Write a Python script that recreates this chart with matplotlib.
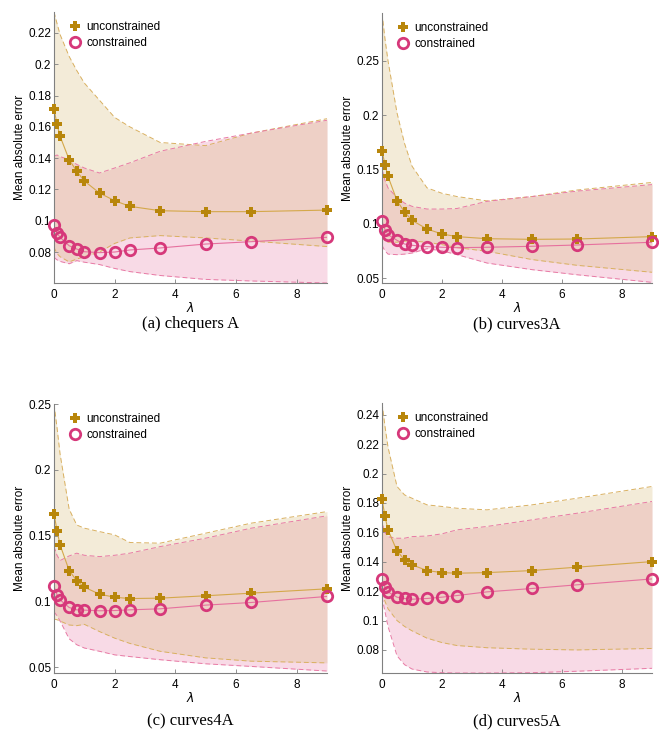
import matplotlib
matplotlib.use("Agg")
import matplotlib.pyplot as plt
from matplotlib.ticker import FormatStrFormatter

lam = [0, 0.1, 0.2, 0.5, 0.75, 1, 1.5, 2, 2.5, 3.5, 5, 6.5, 9]

# (a) chequers A
unc_a = [0.1714, 0.1616, 0.154, 0.139, 0.1316, 0.1254, 0.1177, 0.1128, 0.1092, 0.1064, 0.1058, 0.1058, 0.1068]
con_a = [0.097, 0.0921, 0.0894, 0.084, 0.0819, 0.0802, 0.0796, 0.08, 0.0813, 0.0826, 0.0851, 0.0866, 0.0894]
unc_hi_a = [0.2334, 0.226, 0.219, 0.205, 0.196, 0.188, 0.177, 0.166, 0.160, 0.150, 0.148, 0.156, 0.1652]
unc_lo_a = [0.083, 0.079, 0.077, 0.0737, 0.0755, 0.077, 0.080, 0.0855, 0.089, 0.0905, 0.089, 0.087, 0.0835]
con_hi_a = [0.1412, 0.142, 0.141, 0.139, 0.136, 0.1337, 0.1305, 0.1337, 0.137, 0.1444, 0.1507, 0.156, 0.1642]
con_lo_a = [0.0766, 0.075, 0.074, 0.0725, 0.0745, 0.0735, 0.072, 0.0695, 0.0675, 0.065, 0.0625, 0.0615, 0.0602]

# (b) curves3A
unc_b = [0.1672, 0.1543, 0.1436, 0.1212, 0.1108, 0.1031, 0.0951, 0.0905, 0.0881, 0.0862, 0.0856, 0.0859, 0.0881]
con_b = [0.1022, 0.0945, 0.0899, 0.0847, 0.0813, 0.0801, 0.0789, 0.0783, 0.0779, 0.0783, 0.0792, 0.0804, 0.0829]
unc_hi_b = [0.294, 0.27, 0.25, 0.202, 0.174, 0.153, 0.133, 0.128, 0.125, 0.121, 0.125, 0.131, 0.138]
unc_lo_b = [0.088, 0.084, 0.083, 0.083, 0.084, 0.084, 0.083, 0.0807, 0.078, 0.0746, 0.067, 0.0617, 0.0553]
con_hi_b = [0.150, 0.140, 0.133, 0.124, 0.119, 0.116, 0.1135, 0.1135, 0.114, 0.1206, 0.125, 0.130, 0.136]
con_lo_b = [0.080, 0.075, 0.072, 0.0715, 0.072, 0.073, 0.077, 0.075, 0.0715, 0.0638, 0.0577, 0.053, 0.046]

# (c) curves4A
unc_c = [0.1665, 0.1538, 0.1429, 0.1234, 0.1156, 0.1108, 0.1054, 0.1031, 0.1021, 0.1024, 0.1042, 0.1062, 0.1095]
con_c = [0.1113, 0.105, 0.1011, 0.0953, 0.0935, 0.0933, 0.0928, 0.093, 0.0935, 0.0943, 0.0971, 0.0991, 0.1037]
unc_hi_c = [0.25, 0.232, 0.212, 0.17, 0.158, 0.1556, 0.153, 0.1505, 0.1447, 0.1442, 0.1518, 0.1594, 0.1682]
unc_lo_c = [0.0865, 0.086, 0.085, 0.082, 0.0815, 0.0825, 0.077, 0.072, 0.068, 0.062, 0.057, 0.0545, 0.0532]
con_hi_c = [0.1416, 0.135, 0.131, 0.1345, 0.1366, 0.135, 0.134, 0.135, 0.1366, 0.1416, 0.148, 0.1556, 0.165]
con_lo_c = [0.092, 0.089, 0.085, 0.0715, 0.067, 0.0645, 0.062, 0.0593, 0.058, 0.0556, 0.0525, 0.0505, 0.047]

# (d) curves5A
unc_d = [0.1828, 0.1708, 0.1617, 0.1474, 0.1413, 0.1379, 0.134, 0.1326, 0.1322, 0.1326, 0.134, 0.1363, 0.1401]
con_d = [0.1281, 0.1226, 0.1195, 0.1159, 0.115, 0.1145, 0.115, 0.1159, 0.117, 0.1195, 0.1218, 0.1243, 0.1283]
unc_hi_d = [0.248, 0.232, 0.218, 0.1912, 0.1855, 0.1832, 0.1787, 0.1776, 0.1764, 0.1753, 0.1787, 0.1832, 0.1912]
unc_lo_d = [0.119, 0.113, 0.108, 0.100, 0.096, 0.093, 0.088, 0.085, 0.083, 0.0815, 0.0805, 0.080, 0.081]
con_hi_d = [0.1662, 0.160, 0.157, 0.156, 0.156, 0.1571, 0.1575, 0.159, 0.1617, 0.164, 0.1685, 0.173, 0.181]
con_lo_d = [0.116, 0.106, 0.096, 0.076, 0.070, 0.067, 0.065, 0.0645, 0.0643, 0.0643, 0.0645, 0.0655, 0.0675]

captions = ["(a) chequers A", "(b) curves3A", "(c) curves4A", "(d) curves5A"]
ylims = [(0.0602, 0.2334), (0.0454, 0.294), (0.0455, 0.25), (0.0643, 0.248)]
yticks = [[0.08, 0.1, 0.12, 0.14, 0.16, 0.18, 0.2, 0.22],
          [0.05, 0.1, 0.15, 0.2, 0.25],
          [0.05, 0.1, 0.15, 0.2, 0.25],
          [0.08, 0.1, 0.12, 0.14, 0.16, 0.18, 0.2, 0.22, 0.24]]
xticks = [0, 2, 4, 6, 8]

panels = [
    (unc_a, con_a, unc_hi_a, unc_lo_a, con_hi_a, con_lo_a),
    (unc_b, con_b, unc_hi_b, unc_lo_b, con_hi_b, con_lo_b),
    (unc_c, con_c, unc_hi_c, unc_lo_c, con_hi_c, con_lo_c),
    (unc_d, con_d, unc_hi_d, unc_lo_d, con_hi_d, con_lo_d),
]

gold = "#b8860b"
pink = "#d6387a"

plt.rcParams["font.family"] = "Liberation Sans"

W, H = 659, 735
fig = plt.figure(figsize=(W / 100, H / 100), dpi=100)

# axes boxes in pixels: left, right, top, bottom; caption y
boxes = [(54, 327, 12, 283), (382, 652, 13, 283), (54, 327, 404, 673), (382, 652, 403, 673)]
cap_y = [324, 324, 721, 721]

for i, (unc, con, uhi, ulo, chi, clo) in enumerate(panels):
    l, r, t, b = boxes[i]
    ax = fig.add_axes([l / W, 1 - b / H, (r - l) / W, (b - t) / H])
    ax.fill_between(lam, clo, chi, color="#f8dae6", lw=0)
    ax.fill_between(lam, ulo, uhi, color="#d3b367", alpha=0.25, lw=0)
    for arr in (uhi, ulo):
        ax.plot(lam, arr, color="#d9b060", lw=0.7, ls=(0, (5, 3)))
    for arr in (chi, clo):
        ax.plot(lam, arr, color="#e87aa5", lw=0.7, ls=(0, (5, 3)))
    ax.plot(lam, unc, color="#d4a84a", lw=0.8)
    ax.plot(lam, con, color="#e6709e", lw=0.8)
    ax.plot(lam, unc, ls="none", marker="P", ms=7.5, color=gold, mew=0,
            label="unconstrained", clip_on=False, zorder=5)
    ax.plot(lam, con, ls="none", marker="o", ms=7.5, mfc="none", mec=pink, mew=2,
            label="constrained", clip_on=False, zorder=5)

    ax.set_xlim(0, 9)
    ax.set_ylim(*ylims[i])
    ax.set_xticks(xticks)
    ax.set_yticks(yticks[i])
    ax.yaxis.set_major_formatter(FormatStrFormatter("%g"))
    for s in ("top", "right"):
        ax.spines[s].set_visible(False)
    for s in ("left", "bottom"):
        ax.spines[s].set_color("#808080")
        ax.spines[s].set_linewidth(0.8)
    ax.tick_params(direction="in", length=3, width=0.6, color="#808080",
                   labelsize=8.5)
    ax.tick_params(axis="y", pad=2)
    ax.tick_params(axis="x", pad=4)
    ax.set_ylabel("Mean absolute error", fontsize=8.5, labelpad=1.5)
    ax.set_xlabel(r"$\lambda$", fontsize=9, labelpad=0)
    ax.legend(loc="upper left", bbox_to_anchor=(0.02, 1.0), frameon=False,
              fontsize=8.5, handlelength=1.0, handletextpad=0.5,
              labelspacing=0.3, borderaxespad=0.4)
    fig.text((l + r) / 2 / W, 1 - cap_y[i] / H, captions[i], ha="center",
             va="center", fontsize=12, family="Liberation Serif")

fig.savefig("out.png", dpi=100)
